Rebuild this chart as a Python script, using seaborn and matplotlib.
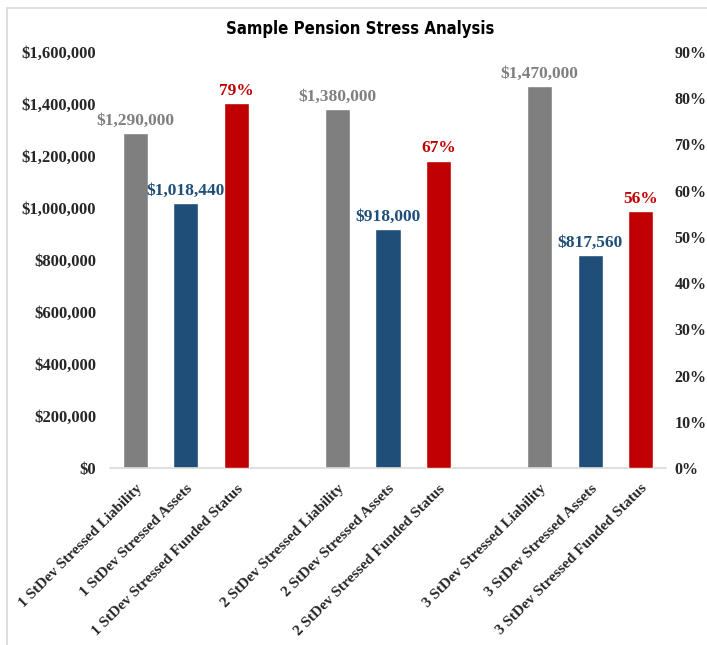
import pandas as pd
import matplotlib.pyplot as plt
import seaborn as sns
from matplotlib.lines import Line2D
from matplotlib.ticker import FuncFormatter, MultipleLocator

# Data
groups = ['1 StDev', '2 StDev', '3 StDev']
liability = [1290000, 1380000, 1470000]
assets = [1018440, 918000, 817560]
funded = [0.7895, 0.6652, 0.5562]

gray = '#7F7F7F'
blue = '#1F4E79'
red = '#C00000'

liab_labels = [f'{g} Stressed Liability' for g in groups]
asset_labels = [f'{g} Stressed Assets' for g in groups]
fund_labels = [f'{g} Stressed Funded Status' for g in groups]

# category order with two empty slots separating the groups
order = []
for i in range(3):
    order += [liab_labels[i], asset_labels[i], fund_labels[i]]
    if i < 2:
        order.append(' ' * (i + 1))

left_df = pd.DataFrame({
    'label': liab_labels + asset_labels,
    'value': liability + assets,
    'series': ['Liability'] * 3 + ['Assets'] * 3,
})
right_df = pd.DataFrame({'label': fund_labels, 'pct': funded})

sns.set_style('white')
plt.rcParams['font.family'] = ['Liberation Serif', 'DejaVu Serif']
plt.rcParams['font.weight'] = 'bold'

fig = plt.figure(figsize=(7.07, 6.45), dpi=100)
ax = fig.add_axes([0.1556, 0.2744, 0.7864, 0.645])
ax2 = ax.twinx()

sns.barplot(data=left_df, x='label', y='value', hue='series', order=order,
            palette={'Liability': gray, 'Assets': blue}, dodge=False,
            width=0.5, legend=False, ax=ax, saturation=1)
sns.barplot(data=right_df, x='label', y='pct', order=order, color=red,
            width=0.5, ax=ax2, saturation=1)

ax.set_ylim(0, 1600000)
ax2.set_ylim(0, 0.9)
ax.set_xlim(-0.5, len(order) - 0.5)
ax.yaxis.set_major_locator(MultipleLocator(200000))
ax2.yaxis.set_major_locator(MultipleLocator(0.1))
ax.yaxis.set_major_formatter(FuncFormatter(lambda v, p: f'${v:,.0f}'))
ax2.yaxis.set_major_formatter(FuncFormatter(lambda v, p: f'{v:.0%}'))

for a in (ax, ax2):
    a.set_xlabel('')
    a.set_ylabel('')
    for s in a.spines.values():
        s.set_visible(False)
    a.tick_params(length=0)
ax.spines['bottom'].set_visible(True)
ax.spines['bottom'].set_color('#D9D9D9')
ax.spines['bottom'].set_linewidth(1.2)

ax.tick_params(axis='y', labelsize=12, pad=10)
ax2.tick_params(axis='y', labelsize=11.5, pad=6)
ax.set_xticks(range(len(order)))
ax.set_xticklabels([o if o.strip() else '' for o in order], rotation=45,
                   ha='right', rotation_mode='anchor', fontsize=11)
ax.tick_params(axis='x', pad=10)

for cont, col in zip(ax.containers, [gray, blue]):
    ax.bar_label(cont, fmt=lambda v: f'${v:,.0f}', color=col, fontsize=12.5,
                 fontweight='bold', padding=3)
for cont in ax2.containers:
    ax2.bar_label(cont, fmt=lambda v: f'{v:.0%}', color=red, fontsize=12.5,
                  fontweight='bold', padding=3)

fig.text(0.509, 0.955, 'Sample Pension Stress Analysis', ha='center', va='center',
         fontsize=12, fontweight='bold', fontstretch='condensed', color='black',
         family=['DejaVu Sans'])

# light frame around the chart area
fig.add_artist(Line2D([0.01, 1.0], [0.988, 0.988], color='#D9D9D9', lw=1.2))
fig.add_artist(Line2D([0.01, 0.01], [0.0, 0.988], color='#D9D9D9', lw=1.2))

fig.savefig('out.png', dpi=100)
